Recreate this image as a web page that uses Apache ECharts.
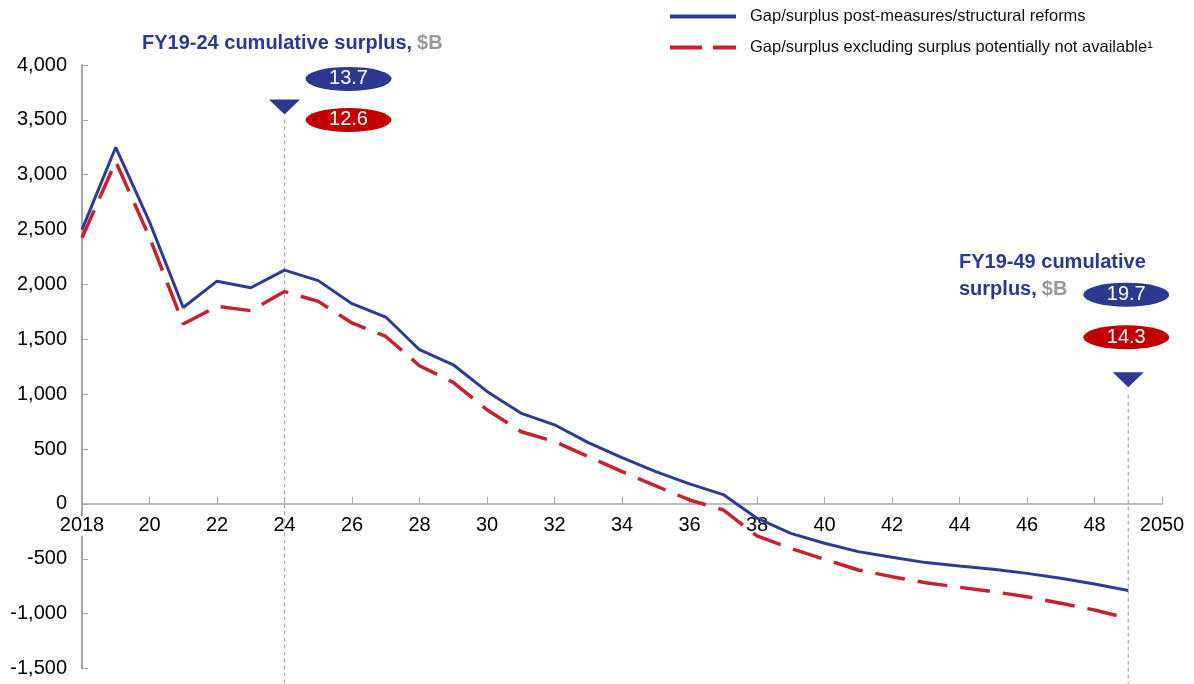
<!DOCTYPE html>
<html>
<head>
<meta charset="utf-8">
<script src="https://cdn.jsdelivr.net/npm/echarts@6/dist/echarts.min.js"></script>
<style>
html,body{margin:0;padding:0;background:#fff;}
#chart{width:1194px;height:684px;}
</style>
</head>
<body>
<div id="chart"></div>
<script>
// ---- data ----
const years = [2018,2019,2020,2021,2022,2023,2024,2025,2026,2027,2028,2029,2030,2031,2032,2033,
               2034,2035,2036,2037,2038,2039,2040,2041,2042,2043,2044,2045,2046,2047,2048,2049];
const postMeasures = [2500,3250,2570,1790,2030,1970,2130,2035,1825,1703,1405,1268,1025,828,721,559,
                      422,295,182,85,-130,-268,-359,-435,-487,-535,-566,-596,-633,-678,-730,-790];
const excluding = [2425,3120,2430,1640,1800,1761,1935,1846,1649,1526,1259,1107,858,660,568,432,
                   295,164,36,-55,-292,-405,-505,-602,-663,-718,-760,-800,-846,-906,-967,-1043];
const seriesNames = ['Gap/surplus post-measures/structural reforms',
                     'Gap/surplus excluding surplus potentially not available\u00B9'];
const yTicks = {min: -1500, max: 4000, interval: 500};
const xTicks = {min: 2018, max: 2050, interval: 2};
// annotation markers: year of the vertical line, label values
const annoYears = [2024, 2049];
const annoBlue = ['13.7', '19.7'];
const annoRed = ['12.6', '14.3'];
// marker anchors (value-axis positions of the marks)
const triangleVal = [3618, 1131];
const blueEllVal = [3873, 1907];
const redEllVal = [3499, 1519];
const dashTopVal = [3504, 995];

const BLUE = '#2B3990';
const LINE_BLUE = '#2E3A94';
const RED = '#C8202F';
const ELL_RED = '#C00000';
const FONT = 'Liberation Sans, Arial, sans-serif';

const W = 1194, H = 684;
const gridTop = 65, gridBottom = 15.5, gridLeft = 82, gridRight = 32;
const gridH = H - gridTop - gridBottom;
// move the x axis up to the zero value line
const xAxisOffset = -gridH * (0 - yTicks.min) / (yTicks.max - yTicks.min);

const chart = echarts.init(document.getElementById('chart'));

const ellipse = 'path://M0,10 A20,10 0 1,1 40,10 A20,10 0 1,1 0,10 Z';
const markData = [];
annoYears.forEach((yr, i) => {
  const off = i === 0 ? [64, 0] : [-2, 0];
  markData.push({coord: [yr, triangleVal[i]], symbol: 'triangle', symbolRotate: 180,
    symbolSize: [31, 15], itemStyle: {color: BLUE}, label: {show: false}});
  markData.push({coord: [yr, blueEllVal[i]], symbol: ellipse, symbolSize: [86, 24],
    symbolOffset: off, itemStyle: {color: BLUE},
    label: {show: true, formatter: annoBlue[i], position: 'inside',
      color: '#fff', fontSize: 20, fontFamily: FONT}});
  markData.push({coord: [yr, redEllVal[i]], symbol: ellipse, symbolSize: [86, 24],
    symbolOffset: off, itemStyle: {color: ELL_RED},
    label: {show: true, formatter: annoRed[i], position: 'inside',
      color: '#fff', fontSize: 20, fontFamily: FONT}});
});

const option = {
  animation: false,
  textStyle: {fontFamily: FONT},
  title: [
    {left: 137, top: 28, text: '{a|FY19-24 cumulative surplus,} {b|$B}',
      textStyle: {rich: {a: {fontSize: 20, fontWeight: 'bold', color: BLUE, fontFamily: FONT},
                         b: {fontSize: 20, color: '#999999', fontFamily: FONT}}}},
    {left: 954, top: 244, text: '{a|FY19-49 cumulative}\n{a|surplus,} {b|$B}',
      textStyle: {rich: {a: {fontSize: 20, fontWeight: 'bold', color: BLUE, fontFamily: FONT, lineHeight: 27},
                         b: {fontSize: 20, color: '#999999', fontFamily: FONT, lineHeight: 27}}}}
  ],
  legend: {
    orient: 'vertical', left: 665, top: 3, itemWidth: 66, itemHeight: 4, itemGap: 14,
    data: [
      {name: seriesNames[0], icon: 'path://M0,0 h66 v4 h-66 Z'},
      {name: seriesNames[1], icon: 'path://M0,0 h32 v4 h-32 Z M43,0 h23 v4 h-23 Z'}
    ],
    textStyle: {fontSize: 16.5, color: '#111', fontFamily: FONT, padding: [0, 0, 0, 9]}
  },
  grid: {left: gridLeft, right: gridRight, top: gridTop, bottom: gridBottom,
         containLabel: false, outerBoundsMode: 'none'},
  xAxis: {
    type: 'value', min: xTicks.min, max: xTicks.max, interval: xTicks.interval, z: 1,
    position: 'bottom', offset: xAxisOffset,
    axisLine: {onZero: false, lineStyle: {color: '#A6A6A6', width: 1.5}},
    axisTick: {inside: true, length: 7, lineStyle: {color: '#A6A6A6'}},
    splitLine: {show: false},
    axisLabel: {fontSize: 20, color: '#000', margin: 12, fontFamily: FONT,
      rich: {bg: {fontSize: 20, color: '#000', fontFamily: FONT, backgroundColor: '#fff'}},
      formatter: v => v === xTicks.min ? '{bg|' + v + '}' :
                      (v === xTicks.max ? String(v) : String(v).slice(2))}
  },
  yAxis: {
    type: 'value', min: yTicks.min, max: yTicks.max, interval: yTicks.interval, z: 0,
    axisLine: {show: true, lineStyle: {color: '#A6A6A6', width: 2}},
    axisTick: {show: true, inside: true, length: 6, lineStyle: {color: '#A6A6A6'}},
    splitLine: {show: false},
    axisLabel: {fontSize: 20, color: '#000', margin: 15, fontFamily: FONT,
      formatter: v => v.toLocaleString('en-US')}
  },
  series: [
    {
      name: seriesNames[0], type: 'line', showSymbol: false, symbol: 'none', clip: false,
      data: years.map((y, i) => [y, postMeasures[i]]),
      lineStyle: {color: LINE_BLUE, width: 3}, itemStyle: {color: LINE_BLUE}, z: 3,
      markPoint: {data: markData, animation: false, silent: true}
    },
    {
      name: seriesNames[1], type: 'line', showSymbol: false, symbol: 'none', clip: false,
      data: years.map((y, i) => [y, excluding[i]]),
      lineStyle: {color: RED, width: 3.5, type: [30, 13]}, itemStyle: {color: RED}, z: 4
    }
  ]
};
chart.setOption(option);

// vertical dashed guide lines, from the triangle down to the bottom of the page
const graphics = annoYears.map((yr, i) => {
  const top = chart.convertToPixel({gridIndex: 0}, [yr, dashTopVal[i]]);
  return {type: 'line', silent: true, z: 2,
    shape: {x1: top[0], y1: top[1], x2: top[0], y2: H},
    style: {stroke: '#A6A6A6', lineWidth: 1.2, lineDash: [4, 3]}};
});
chart.setOption({graphic: graphics});
</script>
</body>
</html>
